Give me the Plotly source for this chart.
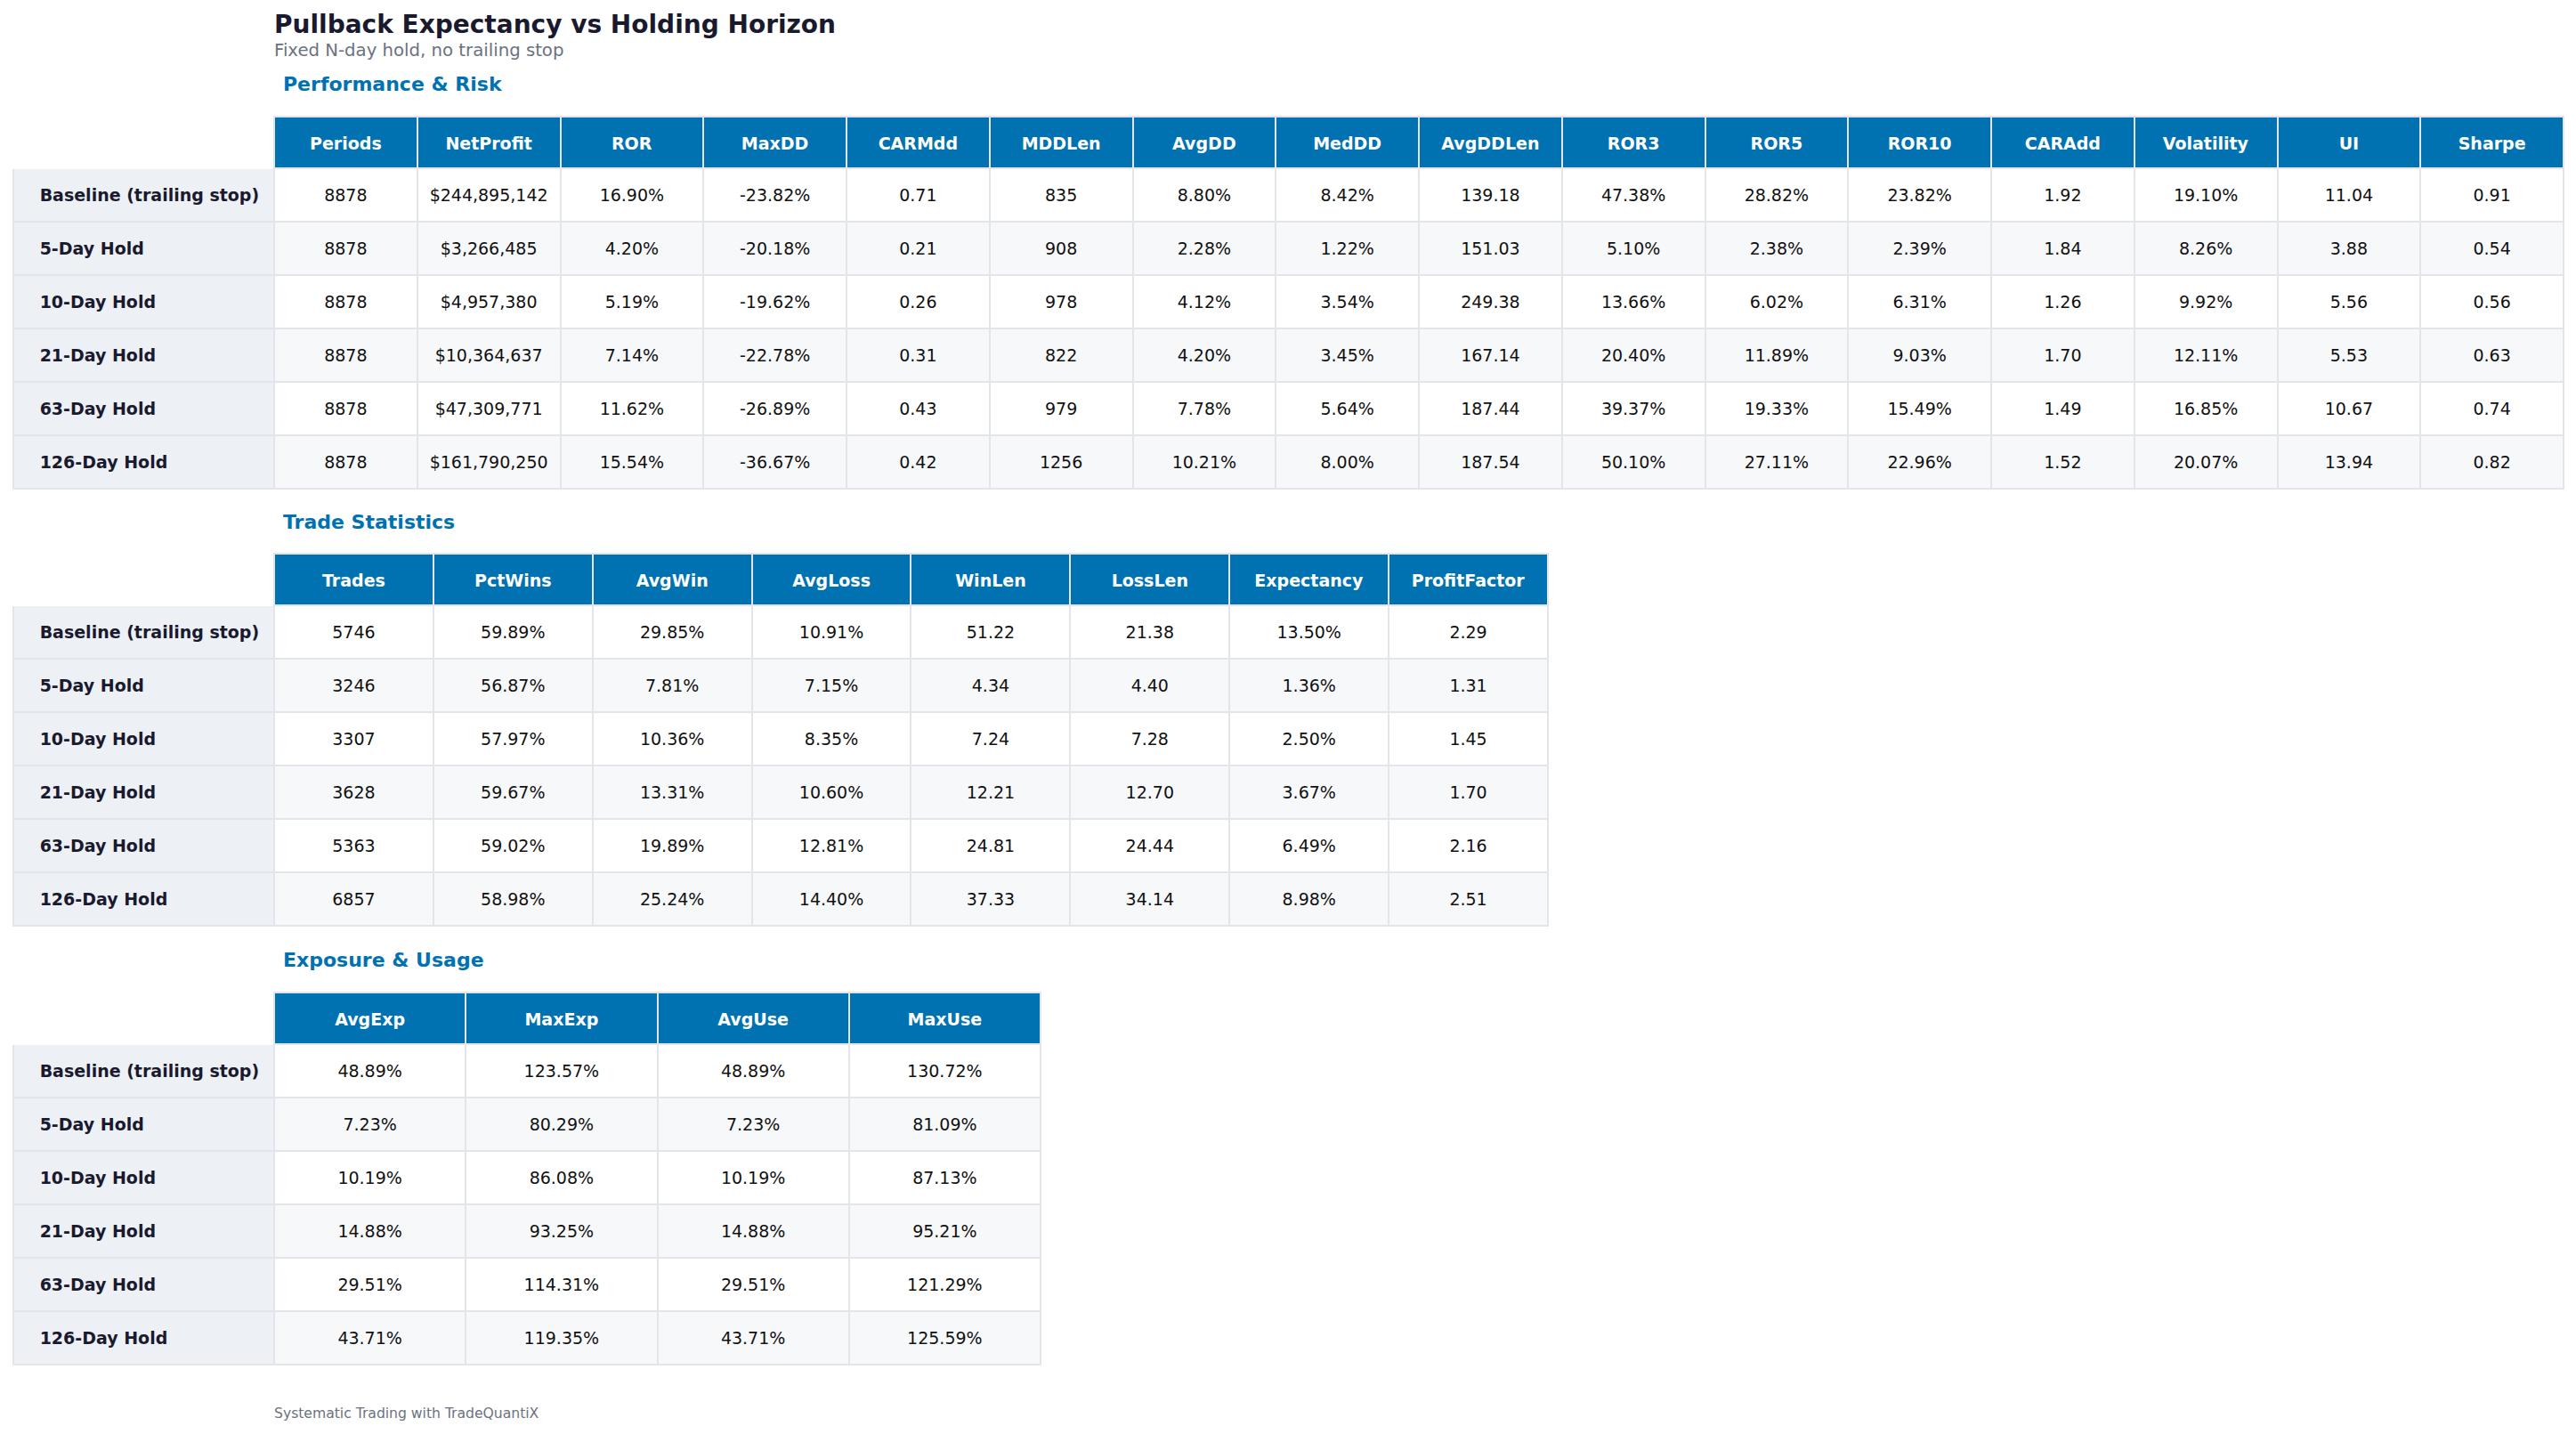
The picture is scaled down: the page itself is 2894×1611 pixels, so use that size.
import plotly.graph_objects as go

# the page body has an 8px margin, so the figure is drawn 8px in from the window edge
W, H = 2878, 1595
OFF = 8

# ---- data -------------------------------------------------------------
strategies = ["Baseline (trailing stop)", "5-Day Hold", "10-Day Hold",
              "21-Day Hold", "63-Day Hold", "126-Day Hold"]

perf_headers = ["Periods", "NetProfit", "ROR", "MaxDD", "CARMdd", "MDDLen", "AvgDD",
                "MedDD", "AvgDDLen", "ROR3", "ROR5", "ROR10", "CARAdd", "Volatility",
                "UI", "Sharpe"]
periods = [8878, 8878, 8878, 8878, 8878, 8878]
net_profit = [244895142, 3266485, 4957380, 10364637, 47309771, 161790250]
ror = [16.90, 4.20, 5.19, 7.14, 11.62, 15.54]
max_dd = [-23.82, -20.18, -19.62, -22.78, -26.89, -36.67]
car_mdd = [0.71, 0.21, 0.26, 0.31, 0.43, 0.42]
mdd_len = [835, 908, 978, 822, 979, 1256]
avg_dd = [8.80, 2.28, 4.12, 4.20, 7.78, 10.21]
med_dd = [8.42, 1.22, 3.54, 3.45, 5.64, 8.00]
avg_dd_len = [139.18, 151.03, 249.38, 167.14, 187.44, 187.54]
ror3 = [47.38, 5.10, 13.66, 20.40, 39.37, 50.10]
ror5 = [28.82, 2.38, 6.02, 11.89, 19.33, 27.11]
ror10 = [23.82, 2.39, 6.31, 9.03, 15.49, 22.96]
car_add = [1.92, 1.84, 1.26, 1.70, 1.49, 1.52]
volatility = [19.10, 8.26, 9.92, 12.11, 16.85, 20.07]
ulcer = [11.04, 3.88, 5.56, 5.53, 10.67, 13.94]
sharpe = [0.91, 0.54, 0.56, 0.63, 0.74, 0.82]

trade_headers = ["Trades", "PctWins", "AvgWin", "AvgLoss", "WinLen", "LossLen",
                 "Expectancy", "ProfitFactor"]
trades = [5746, 3246, 3307, 3628, 5363, 6857]
pct_wins = [59.89, 56.87, 57.97, 59.67, 59.02, 58.98]
avg_win = [29.85, 7.81, 10.36, 13.31, 19.89, 25.24]
avg_loss = [10.91, 7.15, 8.35, 10.60, 12.81, 14.40]
win_len = [51.22, 4.34, 7.24, 12.21, 24.81, 37.33]
loss_len = [21.38, 4.40, 7.28, 12.70, 24.44, 34.14]
expectancy = [13.50, 1.36, 2.50, 3.67, 6.49, 8.98]
profit_factor = [2.29, 1.31, 1.45, 1.70, 2.16, 2.51]

expo_headers = ["AvgExp", "MaxExp", "AvgUse", "MaxUse"]
avg_exp = [48.89, 7.23, 10.19, 14.88, 29.51, 43.71]
max_exp = [123.57, 80.29, 86.08, 93.25, 114.31, 119.35]
avg_use = [48.89, 7.23, 10.19, 14.88, 29.51, 43.71]
max_use = [130.72, 81.09, 87.13, 95.21, 121.29, 125.59]


def pct(v):
    return [f"{x:.2f}%" for x in v]


def num(v):
    return [f"{x:.2f}" for x in v]


def ints(v):
    return [str(x) for x in v]


def money(v):
    return [f"${x:,.0f}" for x in v]


# ---- style ------------------------------------------------------------
FONT = "DejaVu Sans"
BLUE = "#0072B2"
NAVY = "#1a1a2e"
GRID = "#e3e5ea"
LABEL_BG = "#edf0f5"
ROW_BG = ["#ffffff", "#f7f8fa"]
LEFT = 15
LABEL_W = 293
HEAD_H = 58
CELL_H = 60
SMALL = 13  # base font; a blank first line at this size pushes text down to mid-cell
NB = "\u00a0"


def mid(text, bold=False, indent=False):
    # plotly tables top-align text, so a blank first line is used to centre it
    t = f"<b>{text}</b>" if bold else text
    if indent:
        t = f"<span style='font-size:17px'>{NB * 4}</span>" + t
    return f"{NB}<br><span style='font-size:19px'>{t}</span>"


def fx(x):
    return (x - OFF) / W


def fy(y):
    return 1 - (y - OFF) / H


def make_table(headers, columns, col_w, top):
    n = len(strategies)
    right = LEFT + LABEL_W + col_w * len(headers)
    bottom = top + HEAD_H + CELL_H * n + 6
    return go.Table(
        domain=dict(x=[fx(LEFT), fx(right)], y=[fy(bottom), fy(top)]),
        columnwidth=[LABEL_W] + [col_w] * len(headers),
        header=dict(
            values=[""] + [mid(h, bold=True) for h in headers],
            fill_color=["white"] + [BLUE] * len(headers),
            line=dict(color=["white"] + [GRID] * len(headers), width=2),
            font=dict(family=FONT, size=SMALL, color="white"),
            align="center",
            height=HEAD_H,
        ),
        cells=dict(
            values=[[mid(s, bold=True, indent=True) for s in strategies]]
            + [[mid(v) for v in col] for col in columns],
            fill_color=[[LABEL_BG] * n] + [[ROW_BG[i % 2] for i in range(n)]
                                           for _ in columns],
            line=dict(color=GRID, width=2),
            font=dict(family=FONT, size=SMALL, color=[NAVY] + ["#111111"] * len(columns)),
            align=["left"] + ["center"] * len(columns),
            height=CELL_H,
        ),
    )


fig = go.Figure()
fig.add_trace(make_table(
    perf_headers,
    [ints(periods), money(net_profit), pct(ror), pct(max_dd), num(car_mdd), ints(mdd_len),
     pct(avg_dd), pct(med_dd), num(avg_dd_len), pct(ror3), pct(ror5), pct(ror10),
     num(car_add), pct(volatility), num(ulcer), num(sharpe)],
    160.75, 131))
fig.add_trace(make_table(
    trade_headers,
    [ints(trades), pct(pct_wins), pct(avg_win), pct(avg_loss), num(win_len),
     num(loss_len), pct(expectancy), num(profit_factor)],
    178.9, 622))
fig.add_trace(make_table(
    expo_headers,
    [pct(avg_exp), pct(max_exp), pct(avg_use), pct(max_use)],
    215.25, 1115))


def label(text, x, y, size, color, bold=False):
    fig.add_annotation(
        text=f"<b>{text}</b>" if bold else text,
        xref="paper", yref="paper", x=fx(x), y=fy(y),
        xanchor="left", yanchor="middle", showarrow=False,
        font=dict(family=FONT, size=size, color=color),
    )


label("Pullback Expectancy vs Holding Horizon", 306, 28, 28, NAVY, bold=True)
label("Fixed N-day hold, no trailing stop", 306, 57, 19.7, "#6b7280")
label("Performance & Risk", 316, 94, 22, BLUE, bold=True)
label("Trade Statistics", 316, 587, 22, BLUE, bold=True)
label("Exposure & Usage", 316, 1078, 22, BLUE, bold=True)
label("Systematic Trading with TradeQuantiX", 306, 1588, 15.6, "#6b7280")

fig.update_layout(
    width=W, height=H,
    margin=dict(l=0, r=0, t=0, b=0),
    paper_bgcolor="white",
    plot_bgcolor="white",
)

fig.write_html("out.html")
